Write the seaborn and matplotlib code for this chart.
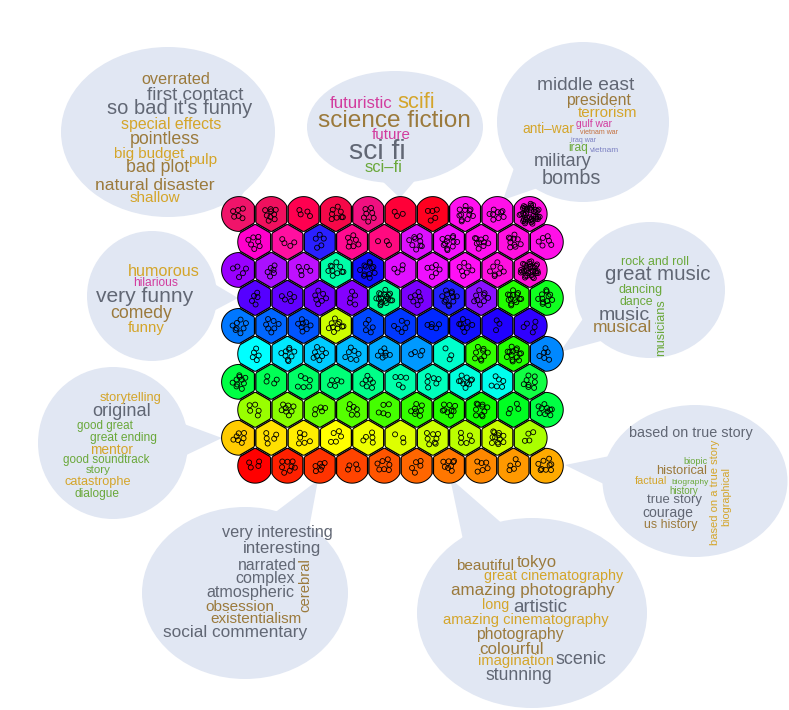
import numpy as np
import pandas as pd
import matplotlib
matplotlib.use("Agg")
import matplotlib.pyplot as plt
import seaborn as sns
from matplotlib.patches import Ellipse, Polygon

sns.set_style("white")
plt.rcParams['font.family'] = ['Liberation Sans', 'DejaVu Sans']

#-----SOM grid data (10 rows top->bottom, 10 columns)--------------------------
cell_colors = [
    ["#f0146a", "#f0105e", "#ff0050", "#f50848", "#f01080", "#ff0038", "#ff0020", "#ff10f0", "#ff10e8", "#ff10e0"],
    ["#ff00cc", "#ff10a0", "#2a20ff", "#ff0a90", "#ff0a80", "#dd10ff", "#f510ff", "#ff10f0", "#ff10e0", "#ff10e8"],
    ["#9a00ff", "#aa10ff", "#c010ff", "#00ffa8", "#1010ff", "#e010ff", "#f010ff", "#ff10f5", "#ff10e0", "#ff10d5"],
    ["#5500ff", "#6200ff", "#7000ff", "#8400ff", "#00ff99", "#7a00ff", "#2222ff", "#8a10ff", "#22ff00", "#10ff20"],
    ["#0077ff", "#0066ff", "#0055ff", "#ccff00", "#0048ff", "#0038ff", "#0028ff", "#1010ff", "#2000ff", "#3000ff"],
    ["#00ffff", "#00e8ff", "#00ccff", "#00bbff", "#00aaff", "#0099ff", "#00ffcc", "#33ff00", "#22ff00", "#0088ff"],
    ["#00ff44", "#00ff55", "#00ff66", "#00ff77", "#00ff88", "#00ffaa", "#00ffbb", "#00ffdd", "#00ffee", "#11ff44"],
    ["#99ff00", "#88ff00", "#66ff00", "#55ff00", "#44ff00", "#33ff00", "#22ff00", "#11ff00", "#00ff22", "#00ff44"],
    ["#ffcc00", "#ffe000", "#ffee00", "#ffff00", "#eeff00", "#ddff00", "#ccff00", "#bbff00", "#ccff00", "#aaff00"],
    ["#ff0000", "#ff2000", "#ff3300", "#ff4400", "#ff5500", "#ff6600", "#ff7700", "#ff8800", "#ff9900", "#ffaa00"],
]

# number of movies mapped to each cell
cell_counts = [
    [6, 9, 4, 8, 7, 3, 5, 12, 9, 40],
    [7, 4, 5, 7, 3, 9, 12, 10, 10, 6],
    [5, 6, 5, 10, 12, 4, 6, 7, 8, 30],
    [5, 5, 7, 5, 18, 7, 12, 9, 14, 12],
    [8, 7, 8, 10, 5, 6, 5, 8, 3, 5],
    [5, 9, 8, 7, 7, 4, 3, 9, 14, 6],
    [10, 4, 6, 5, 7, 5, 6, 10, 6, 8],
    [5, 8, 5, 6, 5, 8, 9, 10, 4, 10],
    [7, 5, 6, 5, 5, 3, 8, 6, 12, 4],
    [4, 8, 6, 4, 7, 5, 8, 6, 5, 9],
]

#-----tag clouds--------------------------------------------------------------
topleft_words = ["overrated", "first contact", "so bad it's funny", "special effects", "pointless",
                 "big budget", "pulp", "bad plot", "natural disaster", "shallow"]
topleft_tones = ["brown", "gray", "gray", "gold", "brown", "gold", "gold", "brown", "brown", "gold"]

top_words = ["futuristic", "scifi", "science fiction", "future", "sci fi", "sci\u2013fi"]
top_tones = ["pink", "gold", "brown", "pink", "gray", "green"]

topright_words = ["middle east", "president", "terrorism", "anti\u2013war", "gulf war", "vietnam war",
                  "iraq war", "iraq", "vietnam", "military", "bombs"]
topright_tones = ["gray", "brown", "gold", "gold", "pink", "orange", "purple", "green", "purple", "gray", "gray"]

right_words = ["rock and roll", "great music", "dancing", "dance", "music", "musical", "musicians"]
right_tones = ["green", "gray", "green", "green", "gray", "brown", "green"]

left_words = ["humorous", "hilarious", "very funny", "comedy", "funny"]
left_tones = ["gold", "pink", "gray", "brown", "gold"]

lowleft_words = ["storytelling", "original", "good great", "great ending", "mentor",
                 "good soundtrack", "story", "catastrophe", "dialogue"]
lowleft_tones = ["gold", "gray", "green", "green", "gold", "green", "green", "gold", "green"]

lowright_words = ["based on true story", "biopic", "historical", "factual", "biography", "history",
                  "true story", "courage", "us history", "based on a true story", "biographical"]
lowright_tones = ["gray", "green", "brown", "gold", "green", "green", "gray", "gray", "brown", "gold", "gold"]

bottomleft_words = ["very interesting", "interesting", "narrated", "complex", "atmospheric",
                    "obsession", "existentialism", "social commentary", "cerebral"]
bottomleft_tones = ["gray", "gray", "gray", "gray", "gray", "brown", "brown", "gray", "brown"]

bottomright_words = ["beautiful", "tokyo", "great cinematography", "amazing photography", "long",
                     "artistic", "amazing cinematography", "photography", "colourful", "imagination",
                     "scenic", "stunning"]
bottomright_tones = ["brown", "brown", "gold", "brown", "gold", "gray", "gold", "brown", "brown", "gold",
                     "gray", "gray"]

#-----layout (pixel coordinates: x, y centre, text length, rotation)---------------
topleft_layout = [(176, 80, 69, 0), (195, 95, 98, 0), (180, 109, 145, 0), (171, 125, 101, 0),
                  (165, 140, 70, 0), (149, 154, 70, 0), (203, 160, 29, 0), (158, 168, 63, 0),
                  (155, 185, 120, 0), (155, 198, 51, 0)]
top_layout = [(361, 104, 63, 0), (416, 103, 38, 0), (394, 121, 154, 0), (391, 135, 39, 0),
              (377, 152, 57, 0), (384, 168, 38, 0)]
topright_layout = [(586, 86, 98, 0), (598, 100, 65, 0), (608, 113, 60, 0), (548, 129, 52, 0),
                   (594, 124, 36, 0), (599, 133, 38, 0), (584, 140, 25, 0), (578, 148, 20, 0),
                   (605, 151, 29, 0), (563, 161, 58, 0), (571, 179, 59, 0)]
right_layout = [(655, 262, 68, 0), (658, 275, 106, 0), (641, 290, 44, 0), (636, 302, 34, 0),
                (624, 316, 51, 0), (622, 328, 59, 0), (661, 328, 57, 90)]
left_layout = [(164, 272, 72, 0), (156, 283, 45, 0), (145, 297, 98, 0), (141, 313, 62, 0),
               (146, 328, 37, 0)]
lowleft_layout = [(131, 398, 62, 0), (122, 412, 59, 0), (105, 426, 56, 0), (123, 438, 67, 0),
                  (111, 450, 43, 0), (106, 460, 86, 0), (98, 470, 25, 0), (98, 482, 67, 0),
                  (97, 494, 45, 0)]
lowright_layout = [(691, 433, 124, 0), (695, 461, 24, 0), (682, 471, 51, 0), (651, 481, 32, 0),
                   (690, 482, 37, 0), (684, 491, 29, 0), (675, 500, 55, 0), (668, 513, 51, 0),
                   (671, 525, 53, 0), (715, 492, 105, 90), (726, 496, 58, 90)]
bottomleft_layout = [(277, 533, 111, 0), (282, 548, 78, 0), (267, 566, 59, 0), (265, 578, 60, 0),
                     (250, 592, 88, 0), (240, 607, 69, 0), (256, 619, 92, 0), (235, 633, 145, 0),
                     (305, 585, 54, 90)]
bottomright_layout = [(485, 566, 58, 0), (537, 562, 40, 0), (554, 576, 138, 0), (533, 591, 164, 0),
                      (496, 605, 27, 0), (540, 607, 55, 0), (526, 620, 165, 0), (520, 634, 88, 0),
                      (512, 649, 65, 0), (516, 661, 76, 0), (581, 659, 51, 0), (519, 675, 67, 0)]

# bubbles: ellipse centre, width, height, tail tip, tail half-angle
bubbles = [
    (168, 132, 214, 170, 237, 203, 0.25),
    (395, 127, 176, 112, 400, 198, 0.20),
    (583, 122, 172, 160, 503, 200, 0.20),
    (650, 290, 150, 136, 560, 352, 0.22),
    (152, 296, 130, 130, 238, 298, 0.22),
    (113, 443, 150, 152, 222, 438, 0.22),
    (695, 481, 185, 152, 565, 465, 0.20),
    (245, 593, 206, 172, 318, 480, 0.20),
    (532, 613, 230, 190, 450, 478, 0.20),
]

tone_colors = {"gray": "#616774", "brown": "#9b7a3c", "gold": "#d4a52a", "pink": "#d23c9e",
               "green": "#6aa83a", "purple": "#7b80c2", "orange": "#c4703e"}

clouds = [
    (topleft_words, topleft_tones, topleft_layout),
    (top_words, top_tones, top_layout),
    (topright_words, topright_tones, topright_layout),
    (right_words, right_tones, right_layout),
    (left_words, left_tones, left_layout),
    (lowleft_words, lowleft_tones, lowleft_layout),
    (lowright_words, lowright_tones, lowright_layout),
    (bottomleft_words, bottomleft_tones, bottomleft_layout),
    (bottomright_words, bottomright_tones, bottomright_layout),
]

#-----figure in pixel coordinates-------------------------------------------
W, H = 789, 710
fig = plt.figure(figsize=(W / 100, H / 100), dpi=100)
ax = fig.add_axes([0, 0, 1, 1])

# speech bubbles
bubble_color = "#e1e7f3"
for cx, cy, bw, bh, tx, ty, da in bubbles:
    ax.add_patch(Ellipse((cx, cy), bw, bh, facecolor=bubble_color, edgecolor='none', zorder=1))
    a0 = np.arctan2((ty - cy) / (bh / 2), (tx - cx) / (bw / 2))
    base = [(cx + bw / 2 * 0.97 * np.cos(a), cy + bh / 2 * 0.97 * np.sin(a)) for a in (a0 - da, a0 + da)]
    ax.add_patch(Polygon([base[0], (tx, ty), base[1]], closed=True, facecolor=bubble_color,
                         edgecolor='none', zorder=1))

# hex grid geometry
dx = 32.3
dy = dx * np.sqrt(3) / 2
x0, y0 = 239, 214
centers = []
for r in range(10):
    for c in range(10):
        centers.append((x0 + c * dx + (dx / 2 if r % 2 else 0), y0 + r * dy))
centers = np.array(centers)


def clip(poly, m, u):
    out = []
    n = len(poly)
    for i in range(n):
        a, b = poly[i], poly[(i + 1) % n]
        da_, db_ = np.dot(a - m, u), np.dot(b - m, u)
        if da_ <= 0:
            out.append(a)
        if da_ * db_ < 0:
            t = da_ / (da_ - db_)
            out.append(a + t * (b - a))
    return np.array(out)


def cell_shape(i, radius, gap):
    th = np.linspace(0, 2 * np.pi, 241)[:-1]
    p = centers[i] + radius * np.column_stack([np.cos(th), np.sin(th)])
    for j in range(len(centers)):
        d = centers[j] - centers[i]
        dist = np.hypot(*d)
        if 0 < dist < dx * 1.2:
            u = d / dist
            p = clip(p, centers[i] + u * (dist / 2 - gap), u)
    return p


flat_colors = [col for row in cell_colors for col in row]
for i in range(len(centers)):
    ax.add_patch(Polygon(cell_shape(i, 17.9, 0), closed=True, facecolor='black', edgecolor='none', zorder=2))
for i in range(len(centers)):
    ax.add_patch(Polygon(cell_shape(i, 16.9, 1.3), closed=True, facecolor=flat_colors[i],
                         edgecolor='none', zorder=3))

# movies inside the cells, laid out on a low-discrepancy pattern in a disc
pts = []
flat_counts = [n for row in cell_counts for n in row]
g1, g2 = 0.7548776662, 0.5698402910
for i, n in enumerate(flat_counts):
    spread = min(10.5, 5.5 + 0.8 * np.sqrt(n))
    for k in range(n):
        u = (0.31 * i + g1 * (k + 1)) % 1.0
        v = (0.17 * i + g2 * (k + 1)) % 1.0
        rad = spread * np.sqrt(0.05 + 0.95 * u)
        ang = 2 * np.pi * v
        pts.append((centers[i][0] + rad * np.cos(ang), centers[i][1] + rad * np.sin(ang)))
pts = pd.DataFrame(pts, columns=['x', 'y'])
sns.scatterplot(x='x', y='y', data=pts, ax=ax, marker='o', s=13, facecolor='none',
                edgecolor='black', linewidth=0.6, zorder=4, legend=False)
ax.set_xlim(0, W)
ax.set_ylim(H, 0)
ax.axis('off')

# tag clouds, each word scaled to its measured length
renderer = fig.canvas.get_renderer()
for words, tones, layout in clouds:
    for w, tone, (x, y, length, rot) in zip(words, tones, layout):
        t = ax.text(x, y, w, fontsize=10, color=tone_colors[tone], ha='center', va='center',
                    rotation=rot, zorder=5)
        bb = t.get_window_extent(renderer)
        size = bb.height if rot else bb.width
        t.set_fontsize(10 * length / size)

fig.savefig('out.png', dpi=100)
